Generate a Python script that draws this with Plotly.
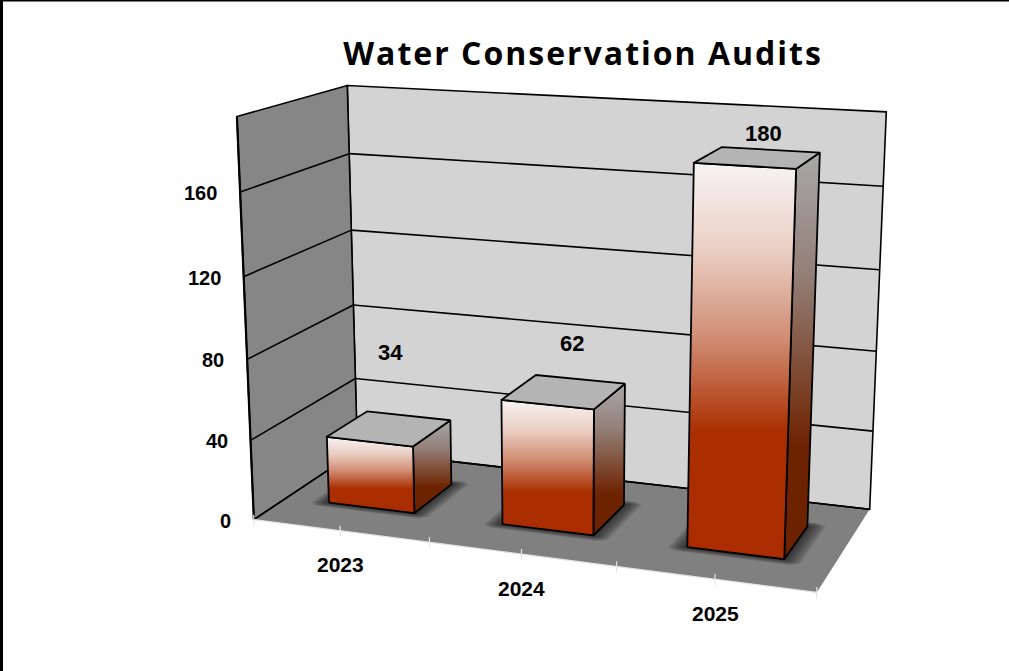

import numpy as np
import plotly.graph_objects as go

YEARS = ["2023", "2024", "2025"]
AUDITS = [34, 62, 180]
VALUE_TICKS = [0, 40, 80, 120, 160]
VALUE_TOP = 195.0

# Perspective camera of the 3D box: (category share, depth share, value/100, 1) -> page position / 1000
VIEW = np.array([
    [0.486403, 0.142244, -0.015011, 0.253866],
    [0.017343, -0.020112, -0.209808, 0.519567],
    [-0.093646, 0.108379, -0.026691, 1.0],
])

def project(x, y, z):
    h = VIEW @ np.array([x, y, z / 100.0, 1.0])
    return h[0] / h[2] * 1000.0, h[1] / h[2] * 1000.0

fig = go.Figure()

def face(corners, fill=None, line="black", width=1.8, gradient=None):
    xy = [project(*c) for c in corners]
    xs = [p[0] for p in xy] + [xy[0][0]]
    ys = [p[1] for p in xy] + [xy[0][1]]
    kw = dict(x=xs, y=ys, mode="lines", hoverinfo="skip", showlegend=False, fill="toself",
              line=dict(color=line, width=width))
    if gradient is not None:
        kw["fillgradient"] = dict(type="vertical", colorscale=gradient, start=min(ys), stop=max(ys))
    else:
        kw["fillcolor"] = fill
    fig.add_trace(go.Scatter(**kw))

def edge(a, b, color="black", width=1.6):
    p, q = project(*a), project(*b)
    fig.add_trace(go.Scatter(x=[p[0], q[0]], y=[p[1], q[1]], mode="lines", hoverinfo="skip",
                             showlegend=False, line=dict(color=color, width=width)))

NONE = "rgba(0,0,0,0)"
# floor and walls
face([(0,0,0),(1,0,0),(1,1,0),(0,1,0)], fill="#808080", line=NONE, width=0)
face([(0,1,0),(1,1,0),(1,1,VALUE_TOP),(0,1,VALUE_TOP)], fill="#d3d3d3", width=1.6)
face([(0,0,0),(0,1,0),(0,1,VALUE_TOP),(0,0,VALUE_TOP)], fill="#868686", width=1.6)
edge((0,0,0),(0,0,VALUE_TOP),width=2.2)
for t in VALUE_TICKS:
    edge((0,0,t),(0,1,t)); edge((0,1,t),(1,1,t))
# floor front edge and ticks
edge((0,0,0),(1,0,0),color="#e4e4e4",width=1.2)
for k in range(7):
    x=k/6
    edge((x,0,-3),(x,0,2.5),color="#e6e6e6",width=1.2)

FRONT_GRAD=[[0,"#f7f4f2"],[0.22,"#eacfc4"],[0.45,"#cf8a70"],[0.68,"#aa2e00"],[1,"#aa2c00"]]
SIDE_GRAD=[[0,"#a8a8a8"],[0.3,"#937f77"],[0.72,"#6e2300"],[1,"#6c2200"]]
TOP_FILL="#b4b4b4"
Y0,Y1=0.3,0.7
# soft shadows on the floor
for i,v in enumerate(AUDITS):
    x0,x1=(i+0.25)/3,(i+0.75)/3
    for s in np.linspace(1,0.1,10):
        dx,dy=0.03*s,0.055*s
        cx,cy=dx*0.5,dy*0.5
        pts=[(x0-dx+cx,Y0-dy,0),(x1+dx-cx,Y0-dy,0),(x1+dx,Y0-dy+cy,0),(x1+dx,Y1+dy-cy,0),
             (x1+dx-cx,Y1+dy,0),(x0-dx+cx,Y1+dy,0),(x0-dx,Y1+dy-cy,0),(x0-dx,Y0-dy+cy,0)]
        face(pts,fill="rgba(15,15,15,0.10)",line=NONE,width=0)
# bars
for i,v in enumerate(AUDITS):
    x0,x1=(i+0.25)/3,(i+0.75)/3
    face([(x1,Y0,0),(x1,Y1,0),(x1,Y1,v),(x1,Y0,v)],gradient=SIDE_GRAD)
    face([(x0,Y0,0),(x1,Y0,0),(x1,Y0,v),(x0,Y0,v)],gradient=FRONT_GRAD)
    face([(x0,Y0,v),(x1,Y0,v),(x1,Y1,v),(x0,Y1,v)],fill=TOP_FILL)

def label(px,py,text,size,anchor="center"):
    fig.add_annotation(x=px,y=py,xref="x",yref="y",text="<b>%s</b>"%text,showarrow=False,xanchor=anchor,yanchor="middle",
                       font=dict(size=size,family="Liberation Sans",color="#000000"))
for t in VALUE_TICKS:
    px,py=project(0,0,t)
    label(px-21,py+1,str(t),20,"right")
for i,y in enumerate(YEARS):
    px,py=project((i+0.5)/3,0,0)
    label(px,py+34,y,21)
VALUE_LABEL_SHIFT=[(1,-76),(8,-48),(6,-24)]
for i,v in enumerate(AUDITS):
    px,py=project((i+0.5)/3,0.5,v)
    label(px+VALUE_LABEL_SHIFT[i][0],py+VALUE_LABEL_SHIFT[i][1],str(v),22)

fig.update_layout(
    width=1009,height=671,margin=dict(l=0,r=0,t=0,b=0),paper_bgcolor="white",plot_bgcolor="white",
    xaxis=dict(range=[0,1009],visible=False,fixedrange=True),
    yaxis=dict(range=[671,0],visible=False,fixedrange=True),
    title=dict(text="<b>Water Conservation Audits</b>",x=583/1009,y=1-54/671,xanchor="center",yanchor="middle",
               font=dict(family="Open Sans",size=32,color="black")),
    shapes=[dict(type="line",xref="paper",yref="paper",x0=0,x1=1,y0=1,y1=1,line=dict(color="black",width=3)),
            dict(type="line",xref="paper",yref="paper",x0=0,x1=0,y0=0,y1=1,line=dict(color="black",width=6))],
)
fig.write_html("out.html",config=dict(displayModeBar=False),
    post_script="document.body.style.margin='0';var t=document.querySelector('.gtitle');if(t){t.style.letterSpacing='2px';}")
